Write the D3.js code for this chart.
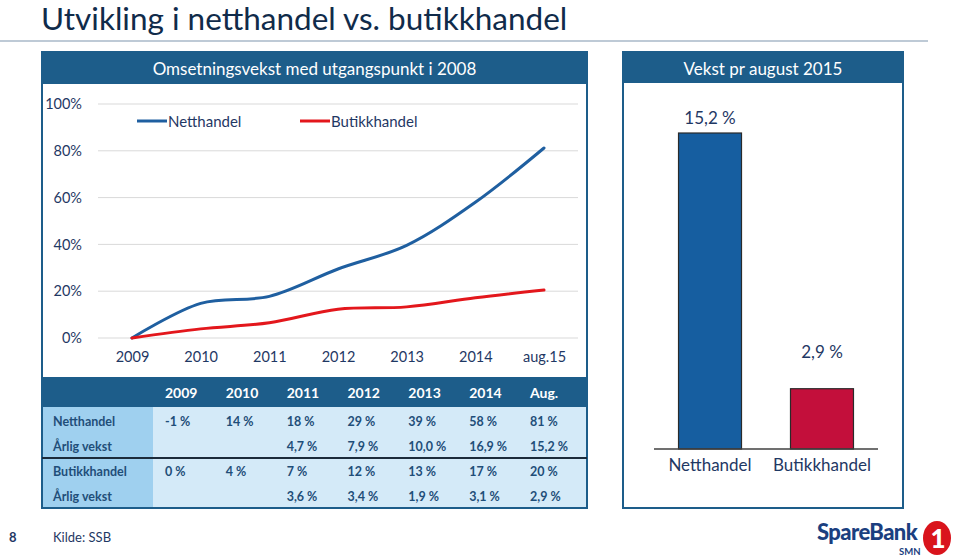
<!DOCTYPE html>
<html><head><meta charset="utf-8">
<script src="https://cdn.jsdelivr.net/npm/d3@7"></script>
<style>
html,body{margin:0;padding:0;background:#fff;}
svg{display:block;font-family:Lato,"Open Sans",sans-serif;}
</style></head>
<body><svg id="c" width="960" height="559"></svg>
<script>
// ---- data ----
const years = ["2009","2010","2011","2012","2013","2014","aug.15"];
const netthandel = [0, 14.8, 17.8, 29.5, 39.6, 58, 81.2];
const butikkhandel = [0, 3.9, 6.5, 12.3, 13.3, 17.2, 20.5];
const yTicks = [0, 20, 40, 60, 80, 100];
const seriesNames = ["Netthandel", "Butikkhandel"];

const tableHeader = ["2009","2010","2011","2012","2013","2014","Aug."];
const tableRowLabels = ["Netthandel","Årlig vekst","Butikkhandel","Årlig vekst"];
const tableNett = ["-1 %","14 %","18 %","29 %","39 %","58 %","81 %"];
const tableNettVekst = ["","","4,7 %","7,9 %","10,0 %","16,9 %","15,2 %"];
const tableButikk = ["0 %","4 %","7 %","12 %","13 %","17 %","20 %"];
const tableButikkVekst = ["","","3,6 %","3,4 %","1,9 %","3,1 %","2,9 %"];

const barCats = ["Netthandel","Butikkhandel"];
const barVals = [15.2, 2.9];
const barLabels = ["15,2 %","2,9 %"];

// ---- styles ----
const NAVY = "#1f3864", HEAD = "#1d5d8a", BLUE = "#1f5fa0", RED = "#e3171c";
const svg = d3.select("#c");

// title
svg.append("text").attr("x", 41).attr("y", 30).attr("font-size", 31.5).attr("fill", "#102b4a")
  .text("Utvikling i netthandel vs. butikkhandel");
svg.append("line").attr("x1", 0).attr("x2", 928).attr("y1", 41).attr("y2", 41)
  .attr("stroke", "#a9b9c8").attr("stroke-width", 1.5);

// ---- left panel ----
const L = {x0: 42, x1: 587, top: 52, head: 84, bottom: 378};
svg.append("rect").attr("x", L.x0).attr("y", L.top).attr("width", L.x1 - L.x0).attr("height", L.bottom - L.top)
  .attr("fill", "#fff").attr("stroke", HEAD).attr("stroke-width", 2);
svg.append("rect").attr("x", L.x0).attr("y", L.top).attr("width", L.x1 - L.x0).attr("height", L.head - L.top).attr("fill", HEAD);
svg.append("text").attr("x", (L.x0 + L.x1) / 2).attr("y", 75).attr("text-anchor", "middle")
  .attr("font-size", 17).attr("fill", "#fff").text("Omsetningsvekst med utgangspunkt i 2008");

const x = d3.scalePoint().domain(years).range([132, 544]);
const y = d3.scaleLinear().domain([0, 100]).range([338, 104]);

// gridlines
svg.append("g").selectAll("line").data(yTicks).join("line")
  .attr("x1", 98).attr("x2", 578).attr("y1", d => y(d)).attr("y2", d => y(d))
  .attr("stroke", "#d9d9d9").attr("stroke-width", 1);

// y axis
const yAx = svg.append("g").attr("transform", "translate(82,0)")
  .call(d3.axisLeft(y).tickValues(yTicks).tickFormat(d => d + "%").tickSize(0).tickPadding(0));
yAx.select(".domain").remove();
yAx.selectAll("text").attr("font-size", 14.5).attr("fill", NAVY).attr("font-family", "Lato");

// x axis
const xAx = svg.append("g").attr("transform", "translate(0,352)")
  .call(d3.axisBottom(x).tickSize(0).tickPadding(0));
xAx.select(".domain").remove();
xAx.selectAll("text").attr("font-size", 14.5).attr("fill", NAVY).attr("font-family", "Lato");

// lines
const line = d3.line().x((d, i) => x(years[i])).y(d => y(d)).curve(d3.curveCatmullRom.alpha(0.5));
[[netthandel, BLUE], [butikkhandel, RED]].forEach(([data, col]) => {
  svg.append("path").attr("d", line(data)).attr("fill", "none").attr("stroke", col)
    .attr("stroke-width", 3).attr("stroke-linecap", "round");
});

// legend
const legX = [137, 300];
seriesNames.forEach((n, i) => {
  const col = i === 0 ? BLUE : RED;
  svg.append("line").attr("x1", legX[i]).attr("x2", legX[i] + 30).attr("y1", 121).attr("y2", 121)
    .attr("stroke", col).attr("stroke-width", 3);
  svg.append("text").attr("x", legX[i] + 31).attr("y", 126.5).attr("font-size", 15).attr("fill", NAVY).text(n);
});

// ---- table ----
const T = {x0: 42, x1: 587, top: 378, head: 407, bottom: 508, labW: 153};
svg.append("rect").attr("x", T.x0).attr("y", T.head).attr("width", T.x1 - T.x0).attr("height", T.bottom - T.head).attr("fill", "#d4eaf8");
svg.append("rect").attr("x", T.x0).attr("y", T.head).attr("width", T.labW - T.x0).attr("height", T.bottom - T.head).attr("fill", "#9fd0ef");
svg.append("rect").attr("x", T.x0).attr("y", T.top).attr("width", T.x1 - T.x0).attr("height", T.head - T.top).attr("fill", HEAD);
svg.append("rect").attr("x", T.x0).attr("y", T.top).attr("width", T.x1 - T.x0).attr("height", T.bottom - T.top)
  .attr("fill", "none").attr("stroke", HEAD).attr("stroke-width", 2);
svg.append("line").attr("x1", T.x0).attr("x2", T.x1).attr("y1", 458).attr("y2", 458).attr("stroke", "#1b2b3b").attr("stroke-width", 2);

const colX = d3.scalePoint().domain(tableHeader).range([165, 530]);
svg.append("g").selectAll("text").data(tableHeader).join("text")
  .attr("x", d => colX(d)).attr("y", 398).attr("font-size", 14).attr("font-weight", "bold").attr("fill", "#fff").text(d => d);

const rows = [tableNett, tableNettVekst, tableButikk, tableButikkVekst];
const rowYs = [425.5, 450.5, 475.5, 501];
tableRowLabels.forEach((lab, r) => {
  svg.append("text").attr("x", 53).attr("y", rowYs[r]).attr("font-size", 12.5).attr("font-weight", "bold").attr("fill", "#1f4e79").text(lab);
  rows[r].forEach((v, c) => {
    svg.append("text").attr("x", colX(tableHeader[c])).attr("y", rowYs[r]).attr("font-size", 12.5)
      .attr("font-weight", "bold").attr("fill", "#1f4e79").text(v);
  });
});

// ---- right panel ----
const R = {x0: 623, x1: 903, top: 52, head: 83, bottom: 508};
svg.append("rect").attr("x", R.x0).attr("y", R.top).attr("width", R.x1 - R.x0).attr("height", R.bottom - R.top)
  .attr("fill", "#fff").attr("stroke", HEAD).attr("stroke-width", 2);
svg.append("rect").attr("x", R.x0).attr("y", R.top).attr("width", R.x1 - R.x0).attr("height", R.head - R.top).attr("fill", HEAD);
svg.append("text").attr("x", (R.x0 + R.x1) / 2).attr("y", 75).attr("text-anchor", "middle")
  .attr("font-size", 17).attr("fill", "#fff").text("Vekst pr august 2015");

const bx = d3.scaleBand().domain(barCats).range([654, 878]).paddingInner(0.4375).paddingOuter(0.219);
const by = d3.scaleLinear().domain([0, 15.2]).range([449, 133]);
const barColors = ["#165ea0", "#c30f3b"];
svg.append("g").selectAll("rect").data(barVals).join("rect")
  .attr("x", (d, i) => bx(barCats[i])).attr("width", bx.bandwidth())
  .attr("y", d => by(d)).attr("height", d => by(0) - by(d))
  .attr("fill", (d, i) => barColors[i]).attr("stroke", "#2a2a2a").attr("stroke-width", 1.2);
svg.append("line").attr("x1", 654).attr("x2", 878).attr("y1", by(0)).attr("y2", by(0)).attr("stroke", "#404040").attr("stroke-width", 1.5);
const labOff = [9, 31];
svg.append("g").selectAll("text").data(barVals).join("text")
  .attr("x", (d, i) => bx(barCats[i]) + bx.bandwidth() / 2).attr("y", (d, i) => by(d) - labOff[i])
  .attr("text-anchor", "middle").attr("font-size", 17).attr("fill", NAVY).text((d, i) => barLabels[i]);
svg.append("g").selectAll("text").data(barCats).join("text")
  .attr("x", d => bx(d) + bx.bandwidth() / 2).attr("y", 471).attr("text-anchor", "middle")
  .attr("font-size", 17).attr("fill", NAVY).text(d => d);

// ---- footer ----
svg.append("text").attr("x", 9).attr("y", 542).attr("font-size", 13).attr("font-weight", "bold").attr("fill", "#1f3864").text("8");
svg.append("text").attr("x", 53).attr("y", 542).attr("font-size", 13).attr("fill", "#1f3864").text("Kilde: SSB");

// logo
svg.append("text").attr("x", 817).attr("y", 540).attr("font-size", 22).attr("font-weight", "900")
  .attr("letter-spacing", -0.6).attr("fill", "#1b3f80").text("SpareBank");
svg.append("text").attr("x", 899).attr("y", 555).attr("font-size", 9.5).attr("font-weight", "bold")
  .attr("fill", "#1b3f80").text("SMN");
svg.append("ellipse").attr("cx", 937).attr("cy", 538).attr("rx", 14).attr("ry", 17).attr("fill", "#d9141c");
svg.append("text").attr("x", 938).attr("y", 548).attr("text-anchor", "middle").attr("font-size", 26)
  .attr("font-weight", "900").attr("fill", "#fff").text("1");
</script></body></html>
